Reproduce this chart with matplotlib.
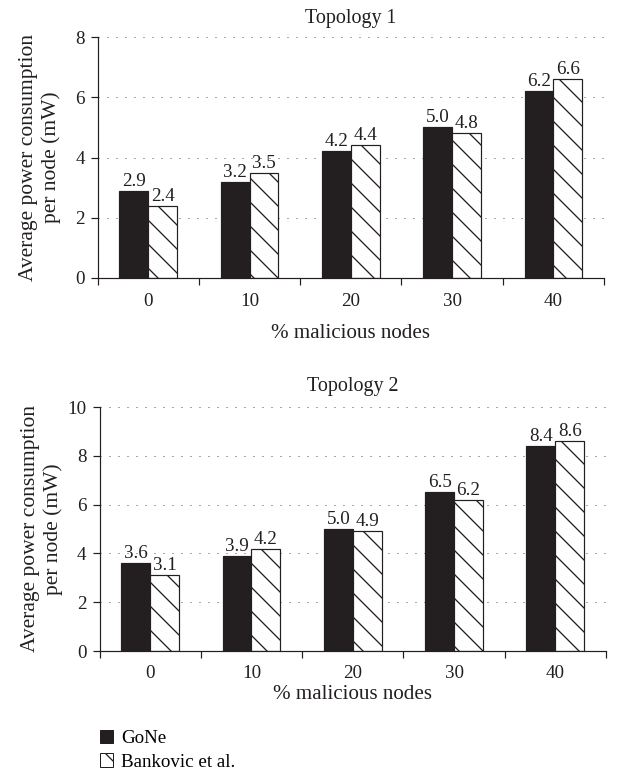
import matplotlib

matplotlib.use('Agg')
import matplotlib.pyplot as plt
from matplotlib.patches import Patch

plt.rcParams['font.family'] = ['Liberation Serif', 'DejaVu Serif']
plt.rcParams['hatch.linewidth'] = 1.3
plt.rcParams['hatch.color'] = '#231f20'

categories = ['0', '10', '20', '30', '40']
gone_t1 = [2.9, 3.2, 4.2, 5.0, 6.2]
bank_t1 = [2.4, 3.5, 4.4, 4.8, 6.6]
gone_t2 = [3.6, 3.9, 5.0, 6.5, 8.4]
bank_t2 = [3.1, 4.2, 4.9, 6.2, 8.6]
titles = ['Topology 1', 'Topology 2']
ymax = [8, 10]

dark = '#231f20'
w = 0.285

fig = plt.figure(figsize=(618 / 72, 775 / 72), dpi=72)
ax1 = fig.add_axes([97.7 / 618, 1 - 277.7 / 775, (604 - 97.7) / 618, (277.7 - 37.3) / 775])
ax2 = fig.add_axes([99.5 / 618, 1 - 651 / 775, (606 - 99.5) / 618, (651 - 407) / 775])


def draw(ax, gone, bank, title, top, tpad, lpad, ttl_pad):
    x = list(range(len(categories)))
    b1 = ax.bar([i - w / 2 for i in x], gone, w, color=dark, edgecolor=dark, lw=1.2)
    b2 = ax.bar([i + w / 2 for i in x], bank, w, color='white', edgecolor=dark,
                hatch='\\', lw=1.2)
    for bars, vals in [(b1, gone), (b2, bank)]:
        for r, v in zip(bars, vals):
            ax.annotate('%.1f' % v, (r.get_x() + r.get_width() / 2, r.get_height()),
                        xytext=(0, 1), textcoords='offset points',
                        ha='center', va='bottom', fontsize=19, color=dark)
    ax.set_xlim(-0.5, len(categories) - 0.5)
    ax.set_ylim(0, top)
    ax.set_yticks(range(0, top + 1, 2))
    ax.set_xticks([i - 0.5 for i in range(len(categories) + 1)])
    ax.set_xticklabels([])
    ax.set_xticks(x, minor=True)
    ax.set_xticklabels(categories, minor=True)
    ax.tick_params(axis='x', which='major', length=7, width=1.2, color=dark)
    ax.tick_params(axis='x', which='minor', length=0, pad=tpad, labelsize=19, labelcolor=dark)
    ax.tick_params(axis='y', length=7, width=1.2, color=dark, labelsize=19,
                   labelcolor=dark, pad=6)
    for s in ['top', 'right']:
        ax.spines[s].set_visible(False)
    for s in ['left', 'bottom']:
        ax.spines[s].set_color(dark)
        ax.spines[s].set_linewidth(1.2)
    ax.yaxis.grid(True, linestyle=(0, (1, 8)), color='#555555', lw=1)
    ax.set_axisbelow(True)
    ax.set_title(title, fontsize=20, color=dark, pad=ttl_pad)
    ax.set_xlabel('% malicious nodes', fontsize=21, color=dark, labelpad=lpad)
    ax.text(-0.114, 0.5, 'Average power consumption\nper node (mW)', transform=ax.transAxes,
            rotation=90, ha='center', va='center', fontsize=21.5, color=dark,
            linespacing=1.2)


draw(ax1, gone_t1, bank_t1, titles[0], ymax[0], 15, 14, 14)
draw(ax2, gone_t2, bank_t2, titles[1], ymax[1], 14, 3, 16)

handles = [Patch(facecolor=dark, edgecolor=dark),
           Patch(facecolor='white', edgecolor=dark, hatch='\\')]
fig.legend(handles, ['GoNe', 'Bankovic et al.'], loc='upper left',
           bbox_to_anchor=(100 / 618, 1 - 730 / 775), frameon=False, fontsize=19,
           handlelength=0.7, handleheight=0.7, handletextpad=0.4, labelspacing=0.32,
           borderpad=0, borderaxespad=0)

fig.savefig('out.png', dpi=72)
